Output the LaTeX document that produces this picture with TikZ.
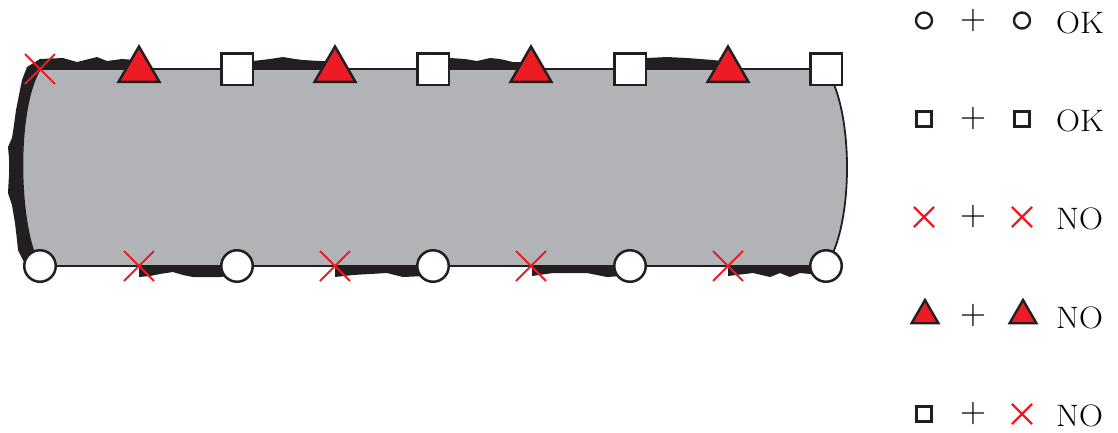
\documentclass[tikz,border=0pt]{standalone}
\usepackage{graphicx}
\usetikzlibrary{shapes.geometric,shapes.misc}
\definecolor{ink}{HTML}{231F20}
\definecolor{fillgray}{HTML}{B1B3B6}
\definecolor{mred}{HTML}{ED1C24}
\newcommand{\widetext}[1]{\scalebox{1.07}[1]{#1}}
\begin{document}
\begin{tikzpicture}[x=1pt,y=-1pt,
  outl/.style={draw=ink,line width=1.8pt,fill=fillgray},
  blob/.style={fill=ink},
  bigcirc/.style={circle,draw=ink,fill=white,line width=2.5pt,minimum size=31.5pt,inner sep=0pt},
  bigsq/.style={rectangle,draw=ink,fill=white,line width=2.5pt,minimum size=31.5pt,inner sep=0pt},
  bigtri/.style={regular polygon,regular polygon sides=3,draw=ink,fill=mred,line width=2.5pt,minimum size=47pt,inner sep=0pt},
  bigx/.style={cross out,draw=mred,line width=2pt,minimum size=28pt,inner sep=0pt},
  lcirc/.style={circle,draw=ink,fill=white,line width=2.4pt,minimum size=16pt,inner sep=0pt},
  lsq/.style={rectangle,draw=ink,fill=white,line width=2.6pt,minimum size=14.5pt,inner sep=0pt},
  ltri/.style={regular polygon,regular polygon sides=3,draw=ink,fill=mred,line width=2.4pt,minimum size=31pt,inner sep=0pt},
  lx/.style={cross out,draw=mred,line width=2.2pt,minimum size=18pt,inner sep=0pt},
  lplus/.style={inner sep=0pt,font=\fontsize{36}{40}\selectfont},
  ltext/.style={inner sep=0pt,anchor=base west,font=\fontsize{31}{37}\selectfont}
]
\useasboundingbox (0,0) rectangle (1118,432);

% left rough black edge
\fill[blob] (40,59) -- (27,67) -- (22,80) -- (20,90) -- (16,110) -- (14,125) -- (12,138) -- (8,147)
  -- (9,158) -- (9,175) -- (8,193) -- (12,205) -- (15,223) -- (17,240) -- (18,250) -- (24,262)
  -- (40,266) -- (40,69) -- cycle;
% top bands
\fill[blob] (40,69) -- (40,59) -- (63,58) -- (77,62) -- (97,57) -- (107,61) -- (122,59) -- (135,60) -- (135,69) -- cycle;
\fill[blob] (250,69) -- (253,61) -- (270,59) -- (283,57) -- (295,59) -- (303,60) -- (320,61) -- (330,61) -- (330,69) -- cycle;
\fill[blob] (448,69) -- (450,58) -- (465,59) -- (477,61) -- (490,58) -- (500,59) -- (513,62) -- (525,62) -- (525,69) -- cycle;
\fill[blob] (645,69) -- (647,58) -- (667,57) -- (687,58) -- (700,59) -- (713,60) -- (722,61) -- (722,69) -- cycle;
% bottom bands
\fill[blob] (139,266) -- (139,277) -- (150,276) -- (160,274) -- (173,272) -- (183,275) -- (193,277) -- (220,277) -- (230,276) -- (230,266) -- cycle;
\fill[blob] (335,266) -- (335,277) -- (353,275) -- (370,274) -- (387,273) -- (403,277) -- (425,276) -- (425,266) -- cycle;
\fill[blob] (532,266) -- (532,276) -- (553,273) -- (570,273) -- (587,273) -- (607,277) -- (622,276) -- (622,266) -- cycle;
\fill[blob] (728,266) -- (728,276) -- (753,273) -- (770,277) -- (780,273) -- (790,277) -- (800,273) -- (810,274) -- (820,276) -- (820,266) -- cycle;

% gray body
\path[outl] (40,69) -- (826,69) .. controls (854,110) and (854,225) .. (826,266) -- (40,266)
  .. controls (18,230) and (15,110) .. (40,69) -- cycle;

% top symbols
\node[bigx] (tx0) at (40,69) {};
\node[bigtri] (tt1) at (139,70) {};
\node[bigsq] (ts1) at (237,69) {};
\node[bigtri] (tt2) at (335,70) {};
\node[bigsq] (ts2) at (433,69) {};
\node[bigtri] (tt3) at (531,70) {};
\node[bigsq] (ts3) at (630,69) {};
\node[bigtri] (tt4) at (728,70) {};
\node[bigsq] (ts4) at (826,69) {};
% bottom symbols
\node[bigcirc] (bc0) at (40,266) {};
\node[bigx] (bx1) at (139,266) {};
\node[bigcirc] (bc1) at (237,266) {};
\node[bigx] (bx2) at (335,266) {};
\node[bigcirc] (bc2) at (433,266) {};
\node[bigx] (bx3) at (531,266) {};
\node[bigcirc] (bc3) at (630,266) {};
\node[bigx] (bx4) at (728,266) {};
\node[bigcirc] (bc4) at (826,266) {};

% legend
\node[lcirc] (l1a) at (924,20.5) {};
\node[lplus] (l1p) at (973,20.5) {+};
\node[lcirc] (l1b) at (1022,20.5) {};
\node[ltext] (l1t) at (1056,33) {\widetext{OK}};

\node[lsq] (l2a) at (924,119) {};
\node[lplus] (l2p) at (973,119) {+};
\node[lsq] (l2b) at (1022,119) {};
\node[ltext] (l2t) at (1056,131.5) {\widetext{OK}};

\node[lx] (l3a) at (924,217) {};
\node[lplus] (l3p) at (973,217) {+};
\node[lx] (l3b) at (1022,217) {};
\node[ltext] (l3t) at (1056,229.5) {\widetext{NO}};

\node[ltri] (l4a) at (925,315.5) {};
\node[lplus] (l4p) at (973,315.5) {+};
\node[ltri] (l4b) at (1023,315.5) {};
\node[ltext] (l4t) at (1056,328) {\widetext{NO}};

\node[lsq] (l5a) at (924,414) {};
\node[lplus] (l5p) at (973,414) {+};
\node[lx] (l5b) at (1022,414) {};
\node[ltext] (l5t) at (1056,426.5) {\widetext{NO}};
\end{tikzpicture}
\end{document}
